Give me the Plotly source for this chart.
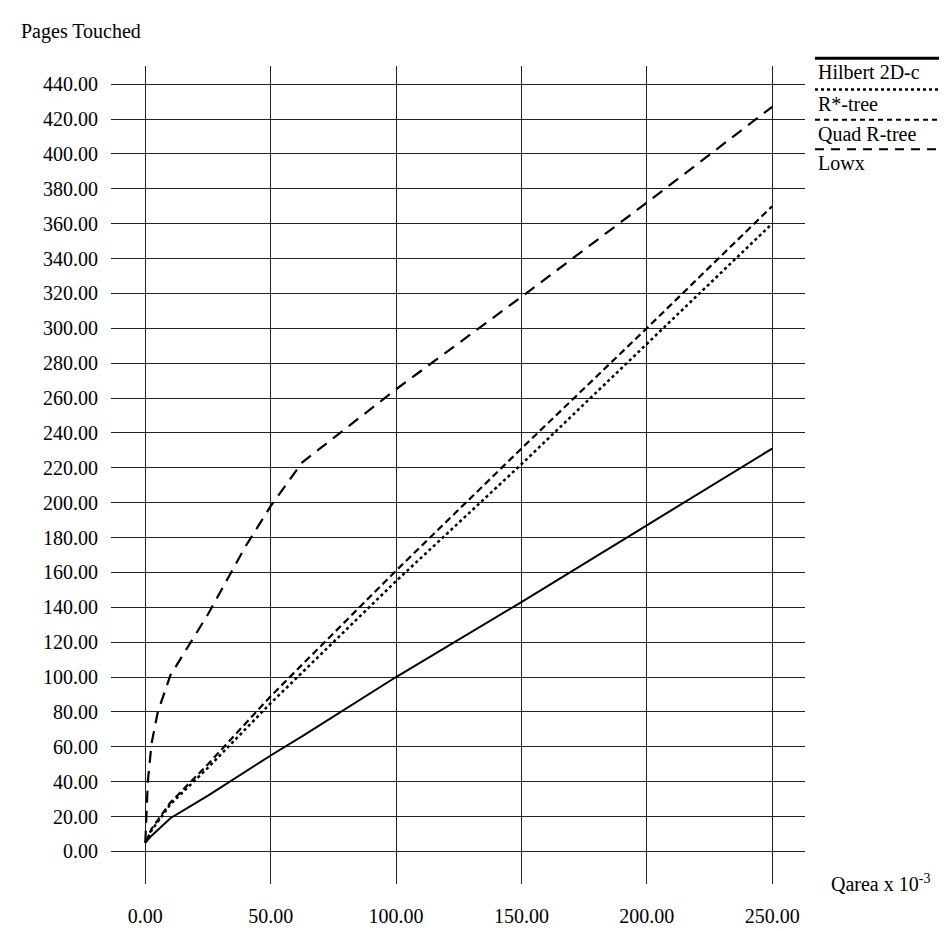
import plotly.graph_objects as go

# ---------------- data ----------------
hilbert_x = [0, 2.5, 10, 25, 50, 62.5, 100, 150, 200, 250]
hilbert_y = [5, 9, 19, 32, 55, 66, 100, 143, 187, 231]

rstar_x = [0, 2.5, 10, 25, 50, 100, 150, 200, 250]
rstar_y = [5, 12, 27, 48, 85, 155, 222, 291, 360]

quad_x = [0, 2.5, 10, 25, 50, 100, 150, 200, 250]
quad_y = [5, 13, 28, 50, 89, 161, 231, 300, 370]

lowx_x = [0, 0.4, 1, 2.5, 5, 10, 25, 40, 50, 62.5, 100, 150, 200, 250]
lowx_y = [5, 20, 40, 62, 80, 101, 136, 175, 198, 223, 265, 318, 372, 427]

series_names = ["Hilbert 2D-c", "R*-tree", "Quad R-tree", "Lowx"]
y_label = "Pages Touched"
x_label = "Qarea x 10<sup>-3</sup>"

# ---------------- layout geometry ----------------
W, H = 947, 931
ML, MR, MT, MB = 103, 150, 58, 37
PW, PH = W - ML - MR, H - MT - MB

def px(x):
    return (x - ML) / PW

def py(y):
    return (H - MB - y) / PH

FONT = "Liberation Serif, Times New Roman, serif"

dashes = ["solid", "dot", "7px,4px", "12px,8px"]
widths = [2, 2.5, 2.2, 2.2]

fig = go.Figure()
for name, xs, ys, d, w in zip(series_names,
                              [hilbert_x, rstar_x, quad_x, lowx_x],
                              [hilbert_y, rstar_y, quad_y, lowx_y],
                              dashes, widths):
    fig.add_trace(go.Scatter(x=xs, y=ys, mode="lines", name=name,
                             line=dict(color="black", width=w, dash=d),
                             showlegend=False))

grid = dict(showgrid=True, gridcolor="#222", gridwidth=1.2, zeroline=False,
            showline=False, tickformat=".2f",
            tickfont=dict(family=FONT, size=20, color="black"),
            ticks="outside", tickcolor="rgba(0,0,0,0)")

fig.update_xaxes(range=[-13.68, 263.1], tick0=0, dtick=50, ticklen=14, **grid)
fig.update_yaxes(range=[-18.7, 450.4], tick0=0, dtick=20, ticklen=8, **grid)

# custom legend: line above each label
leg_lines_y = [50, 82, 113, 143]
leg_text_y = [64, 97, 128, 157]
leg_dash = ["solid", "dot", "5px,4px", "9px,7px"]
leg_w = [3, 2.5, 2, 2]
shapes = []
annotations = []
for i, name in enumerate(series_names):
    shapes.append(dict(type="line", xref="paper", yref="paper",
                       x0=px(807), x1=px(947), y0=py(leg_lines_y[i]), y1=py(leg_lines_y[i]),
                       line=dict(color="black", width=leg_w[i], dash=leg_dash[i])))
    annotations.append(dict(text=name, xref="paper", yref="paper",
                            x=px(808), y=py(leg_text_y[i]), xanchor="left", yanchor="middle",
                            showarrow=False, font=dict(family=FONT, size=20, color="black")))

annotations.append(dict(text=y_label, xref="paper", yref="paper",
                        x=px(11), y=py(23), xanchor="left", yanchor="middle",
                        showarrow=False, font=dict(family=FONT, size=20, color="black")))
annotations.append(dict(text=x_label, xref="paper", yref="paper",
                        x=px(821), y=py(893), xanchor="left", yanchor="middle",
                        showarrow=False, font=dict(family=FONT, size=20, color="black")))

fig.update_layout(width=W, height=H, margin=dict(l=ML, r=MR, t=MT, b=MB),
                  plot_bgcolor="white", paper_bgcolor="white",
                  shapes=shapes, annotations=annotations, showlegend=False)

fig.write_html("out.html")
